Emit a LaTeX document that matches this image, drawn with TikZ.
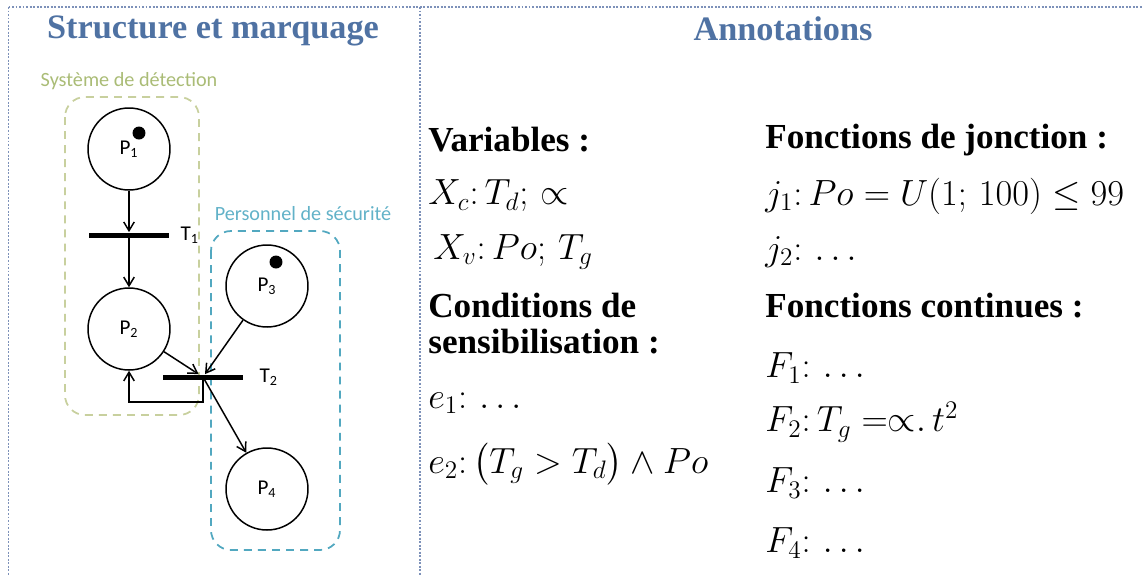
\documentclass[tikz,border=0pt]{standalone}
\usepackage{amsmath,amssymb}
\usepackage{fontspec}
\setmainfont{Liberation Serif}
\newfontfamily\calib{Carlito}
\usepackage{xcolor}
\usetikzlibrary{arrows.meta,positioning}

\definecolor{headblue}{RGB}{79,114,163}
\definecolor{detgreen}{RGB}{200,208,158}
\definecolor{detlabel}{RGB}{170,188,118}
\definecolor{secblue}{RGB}{82,168,192}
\definecolor{seclabel}{RGB}{98,178,200}
\definecolor{rulegray}{RGB}{125,145,185}

\begin{document}
\begin{tikzpicture}[
    x=0.02cm, y=-0.02cm,
    place/.style={circle, draw, line width=0.85pt, minimum size=1.64cm, inner sep=0pt, font=\calib\fontsize{12}{14}\selectfont},
    trans/.style={rectangle, fill=black, minimum width=1.6cm, minimum height=0.1cm, inner sep=0pt},
    token/.style={circle, fill=black, minimum size=0.26cm, inner sep=0pt},
    arc/.style={-{Straight Barb[length=5pt,width=6pt]}, line width=0.85pt},
    group/.style={dash pattern=on 4.5pt off 3.5pt, line width=1pt, rounded corners=0.4cm},
    grouplabel/.style={font=\calib\fontsize{11.5}{13}\selectfont, inner sep=0pt},
    tlabel/.style={font=\calib\fontsize{12}{14}\selectfont, inner sep=0pt},
    cellrule/.style={rulegray, line width=0.6pt, dash pattern=on 1.1pt off 0.9pt},
    title/.style={font=\bfseries\fontsize{19.5}{23}\selectfont, text=headblue, inner sep=0pt, anchor=base},
    head/.style={font=\bfseries\fontsize{20}{20.5}\selectfont, anchor=west, inner sep=0pt, align=left},
    mathtxt/.style={font=\fontsize{20}{23}\selectfont, anchor=west, inner sep=0pt}
]
\useasboundingbox (0,0) rectangle (1143,576);

% table
\draw[cellrule] (8.5,7) -- (1143,7);
\draw[cellrule] (8.5,7) -- (8.5,576);
\draw[cellrule] (420,7) -- (420,576);

\node[title] (ttlstruct) at (213,38) {Structure et marquage};
\node[title] (ttlannot) at (783,40) {Annotations};

% groups
\draw[group, detgreen] (65,97) rectangle (199,415);
\node[grouplabel, text=detlabel] (lbldet) at (129,81) {Système de détection};
\draw[group, secblue] (211,231) rectangle (340,550);
\node[grouplabel, text=seclabel] (lblsec) at (303,214) {Personnel de sécurité};

% places and transitions
\node[place] (p1) at (129,149) {P\textsubscript{1}};
\node[trans] (t1) at (129,235) {};
\node[place] (p2) at (129,329) {P\textsubscript{2}};
\node[place] (p3) at (267,286) {P\textsubscript{3}};
\node[trans] (t2) at (203,377) {};
\node[place] (p4) at (267,489) {P\textsubscript{4}};

\node[token] at ([xshift=0.2cm,yshift=0.32cm]p1.center) {};
\node[token] at ([xshift=0.18cm,yshift=0.48cm]p3.center) {};

\node[tlabel, right=0.22cm of t1] (lblt1) {T\textsubscript{1}};
\node[tlabel, right=0.32cm of t2] (lblt2) {T\textsubscript{2}};

\draw[arc] (p1) -- (t1);
\draw[arc] (t1) -- (p2);
\draw[arc] (p2) -- (t2);
\draw[arc] (p3) -- (t2);
\draw[arc] (t2) -- (p4);
\draw[arc] (t2.south) -- ++(0,22) -| (p2.south);

% annotations
\node[head] (variables) at (428,140) {Variables :};
\node[mathtxt] (xc) at (428,196) {$X_c{:}\,T_d;\,{\propto}$};
\node[mathtxt] (xv) at (433,252) {$X_v{:}\,Po;\,T_g$};
\node[head] (conditions) at (428,324) {Conditions de\\sensibilisation :};
\node[mathtxt] (e1) at (428,403) {$e_1{:}\,\dots$};
\node[mathtxt] (e2) at (428,464) {$e_2{:}\,\big(T_g>T_d\big)\wedge Po$};

\node[head] (jonction) at (765,140) {Fonctions de jonction :};
\node[mathtxt] (j1) at (765,196) {$j_1{:}\,Po=U(1;\,100)\leq 99$};
\node[mathtxt] (j2) at (765,252) {$j_2{:}\,\dots$};
\node[head] (continues) at (765,306) {Fonctions continues :};
\node[mathtxt] (f1) at (765,368) {$F_1{:}\,\dots$};
\node[mathtxt] (f2) at (765,422) {$F_2{:}\,T_g\;{=}{\propto}.\,t^2$};
\node[mathtxt] (f3) at (765,483) {$F_3{:}\,\dots$};
\node[mathtxt] (f4) at (765,543) {$F_4{:}\,\dots$};

\end{tikzpicture}
\end{document}
